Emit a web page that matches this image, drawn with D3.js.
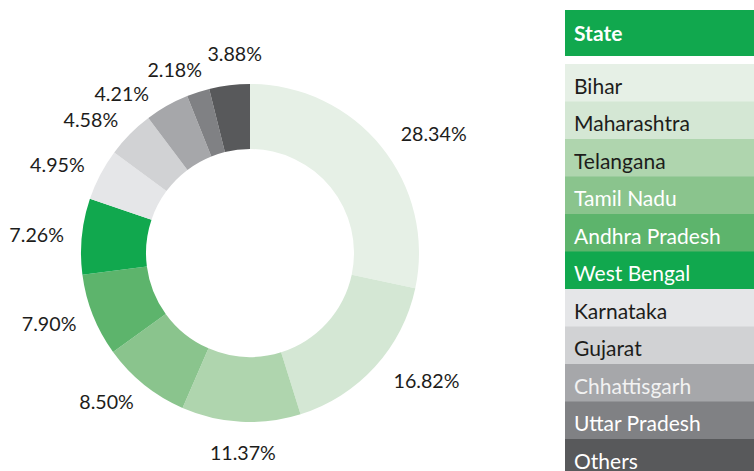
<!DOCTYPE html>
<html>
<head>
<meta charset="utf-8">
<script src="https://cdn.jsdelivr.net/npm/d3@7"></script>
<style>
  body { margin: 0; background: #fff; }
  svg { display: block; font-family: Lato, "Noto Sans", sans-serif; }
</style>
</head>
<body>
<svg id="chart" width="754" height="471"></svg>
<script>
// Share of total by state (percent)
const states = ["Bihar", "Maharashtra", "Telangana", "Tamil Nadu", "Andhra Pradesh",
  "West Bengal", "Karnataka", "Gujarat", "Chhattisgarh", "Uttar Pradesh", "Others"];
const shares = [28.34, 16.82, 11.37, 8.50, 7.90, 7.26, 4.95, 4.58, 4.21, 2.18, 3.88];
const sliceColors = ["#e6f0e6", "#d4e7d4", "#afd5ae", "#8ac48d", "#5db46c", "#11a84e",
  "#e5e6e8", "#d1d2d4", "#a6a7aa", "#808184", "#58595b"];
const legendTextColors = ["#1d1d1b", "#1d1d1b", "#1d1d1b", "#ffffff", "#ffffff", "#ffffff",
  "#1d1d1b", "#1d1d1b", "#f2f2f2", "#ffffff", "#ffffff"];
const legendTitle = "State";
const headerColor = "#11a84e";

const svg = d3.select("#chart");
const cx = 250, cy = 253, outerR = 169, innerR = 104;
const textDark = "#1d1d1b";

// fit a font size so that a sample string reaches a given width
function fitSize(sample, targetW, weight) {
  const t = svg.append("text").attr("font-size", 20).attr("font-weight", weight || 400).text(sample);
  const w = t.node().getComputedTextLength();
  t.remove();
  return 20 * targetW / w;
}
const labelSize = fitSize("28.34%", 66);
const legendSize = fitSize("Maharashtra", 116);

const data = states.map((s, i) => ({ state: s, value: shares[i], color: sliceColors[i] }));
const pie = d3.pie().sort(null).value(d => d.value);
const arcs = pie(data);
const arc = d3.arc().innerRadius(innerR).outerRadius(outerR);

const g = svg.append("g").attr("transform", `translate(${cx},${cy})`);
g.selectAll("path.slice").data(arcs).join("path")
  .attr("class", "slice")
  .attr("d", arc)
  .attr("fill", d => d.data.color);

// percentage labels outside the ring: anchored by side, nudged apart where they collide
const fmt = v => v.toFixed(2) + "%";
const labelR = outerR + 21, labelDx = 3, padX = 5, boxH = 24, textH = 20;
const measure = svg.append("text").attr("font-size", labelSize);
const labels = arcs.map(a => {
  measure.text(fmt(a.data.value));
  return { text: fmt(a.data.value), theta: (a.startAngle + a.endAngle) / 2,
    tw: measure.node().getComputedTextLength() };
});
measure.remove();

function place(l) {
  const s = Math.sin(l.theta), c = -Math.cos(l.theta);
  const px = labelDx + labelR * s, py = labelR * c;
  if (Math.abs(s) < 0.2) {
    l.anchor = "middle"; l.cxBox = px; l.y = py + Math.sign(c) * textH / 2;
  } else if (s > 0) {
    l.anchor = "start"; l.cxBox = px + l.tw / 2; l.y = py;
  } else {
    l.anchor = "end"; l.cxBox = px - l.tw / 2; l.y = py;
  }
  l.x = px;
}
labels.forEach(place);
const step = 0.0015;
for (let it = 0; it < 3000; it++) {
  let moved = false;
  for (let i = 0; i < labels.length; i++) {
    const a = labels[i], b = labels[(i + 1) % labels.length];
    if (Math.abs(a.cxBox - b.cxBox) < (a.tw + b.tw) / 2 + padX && Math.abs(a.y - b.y) < boxH) {
      a.theta -= step; b.theta += step;
      place(a); place(b);
      moved = true;
    }
  }
  if (!moved) break;
}

g.selectAll("text.pct").data(labels).join("text")
  .attr("class", "pct")
  .attr("x", d => d.x)
  .attr("y", d => d.y)
  .attr("text-anchor", d => d.anchor)
  .attr("dominant-baseline", "central")
  .attr("font-size", labelSize)
  .attr("fill", textDark)
  .text(d => d.text);

// legend table
const legX = 565, legW = 200, headY = 10, headH = 46, rowY = 64, rowH = 37.5, textX = 574;
const leg = svg.append("g");
leg.append("rect").attr("x", legX).attr("y", headY).attr("width", legW).attr("height", headH).attr("fill", headerColor);
leg.append("text").attr("x", textX).attr("y", headY + 31)
  .attr("font-size", legendSize).attr("font-weight", 700).attr("fill", "#ffffff").text(legendTitle);

const rows = leg.selectAll("g.row").data(data).join("g")
  .attr("class", "row")
  .attr("transform", (d, i) => `translate(0,${rowY + i * rowH})`);
rows.append("rect").attr("x", legX).attr("y", 0).attr("width", legW).attr("height", rowH + 0.5)
  .attr("fill", d => d.color);
rows.append("text").attr("x", textX).attr("y", 29.5)
  .attr("font-size", legendSize)
  .attr("fill", (d, i) => legendTextColors[i])
  .text(d => d.state);
</script>
</body>
</html>
